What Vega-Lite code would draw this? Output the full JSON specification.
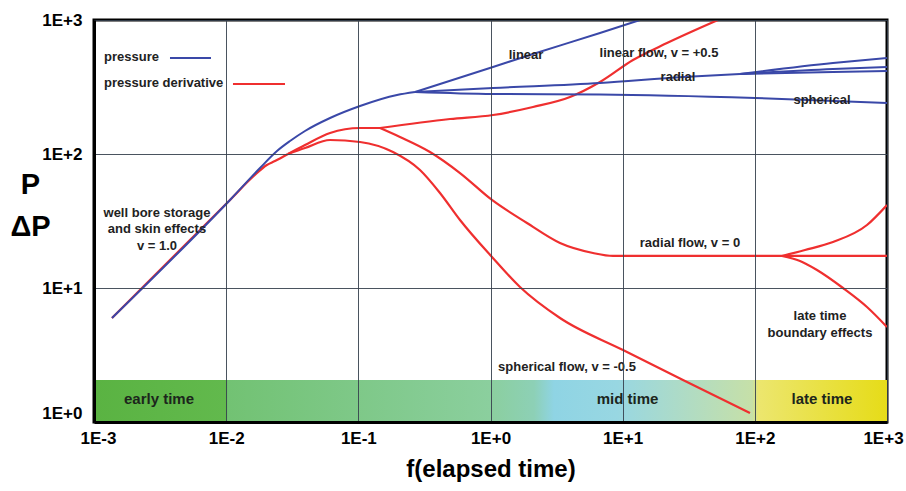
{
  "$schema": "https://vega.github.io/schema/vega-lite/v6.json",
  "width": 793,
  "height": 402,
  "autosize": {"type": "none"},
  "padding": {"left": 94, "top": 20, "right": 19, "bottom": 69},
  "background": "#ffffff",
  "config": {
    "view": {"stroke": "#000000", "strokeWidth": 3},
    "font": "Liberation Sans"
  },
  "datasets": {
    "band": [{"x": 0.001, "x2": 1000, "y": 1, "y2": 2.058}],
    "curves": [
      {"series": "d_main", "kind": "derivative", "x": 0.001368, "y": 5.97},
      {"series": "d_main", "kind": "derivative", "x": 0.01069, "y": 45.4},
      {"series": "d_main", "kind": "derivative", "x": 0.01616, "y": 68.5},
      {"series": "d_main", "kind": "derivative", "x": 0.0203, "y": 82.8},
      {"series": "d_main", "kind": "derivative", "x": 0.02341, "y": 88.7},
      {"series": "d_main", "kind": "derivative", "x": 0.02936, "y": 100},
      {"series": "d_A", "kind": "derivative", "x": 0.02936, "y": 100},
      {"series": "d_A", "kind": "derivative", "x": 0.03948, "y": 116.7},
      {"series": "d_A", "kind": "derivative", "x": 0.0611, "y": 143.5},
      {"series": "d_A", "kind": "derivative", "x": 0.103, "y": 156.3},
      {"series": "d_A", "kind": "derivative", "x": 0.1459, "y": 156.3},
      {"series": "d_linear", "kind": "derivative", "x": 0.1459, "y": 156.3},
      {"series": "d_linear", "kind": "derivative", "x": 0.4937, "y": 182.4},
      {"series": "d_linear", "kind": "derivative", "x": 1.044, "y": 195.4},
      {"series": "d_linear", "kind": "derivative", "x": 2.097, "y": 224.3},
      {"series": "d_linear", "kind": "derivative", "x": 3.995, "y": 266.3},
      {"series": "d_linear", "kind": "derivative", "x": 6.735, "y": 344.6},
      {"series": "d_linear", "kind": "derivative", "x": 11.97, "y": 502.9},
      {"series": "d_linear", "kind": "derivative", "x": 21.64, "y": 673},
      {"series": "d_linear", "kind": "derivative", "x": 52.6, "y": 1000},
      {"series": "d_radial", "kind": "derivative", "x": 0.1459, "y": 156.3},
      {"series": "d_radial", "kind": "derivative", "x": 0.2066, "y": 134},
      {"series": "d_radial", "kind": "derivative", "x": 0.3484, "y": 103.5},
      {"series": "d_radial", "kind": "derivative", "x": 0.5879, "y": 72.1},
      {"series": "d_radial", "kind": "derivative", "x": 1.026, "y": 45.4},
      {"series": "d_radial", "kind": "derivative", "x": 1.888, "y": 30.55},
      {"series": "d_radial", "kind": "derivative", "x": 3.356, "y": 21.67},
      {"series": "d_radial", "kind": "derivative", "x": 5.963, "y": 18.25},
      {"series": "d_radial", "kind": "derivative", "x": 8.45, "y": 17.34},
      {"series": "d_radial", "kind": "derivative", "x": 160.5, "y": 17.34},
      {"series": "d_radial", "kind": "derivative", "x": 1000, "y": 17.34},
      {"series": "d_up", "kind": "derivative", "x": 160.5, "y": 17.34},
      {"series": "d_up", "kind": "derivative", "x": 239.6, "y": 19.2},
      {"series": "d_up", "kind": "derivative", "x": 390.2, "y": 22.04},
      {"series": "d_up", "kind": "derivative", "x": 705.6, "y": 29.52},
      {"series": "d_up", "kind": "derivative", "x": 1000, "y": 41.6},
      {"series": "d_down", "kind": "derivative", "x": 160.5, "y": 17.34},
      {"series": "d_down", "kind": "derivative", "x": 219.6, "y": 15.9},
      {"series": "d_down", "kind": "derivative", "x": 295.3, "y": 13.62},
      {"series": "d_down", "kind": "derivative", "x": 464.5, "y": 10},
      {"series": "d_down", "kind": "derivative", "x": 705.6, "y": 7.216},
      {"series": "d_down", "kind": "derivative", "x": 1000, "y": 5.117},
      {"series": "d_spherical", "kind": "derivative", "x": 0.02936, "y": 100},
      {"series": "d_spherical", "kind": "derivative", "x": 0.03948, "y": 110.9},
      {"series": "d_spherical", "kind": "derivative", "x": 0.0611, "y": 127.2},
      {"series": "d_spherical", "kind": "derivative", "x": 0.103, "y": 122.9},
      {"series": "d_spherical", "kind": "derivative", "x": 0.1829, "y": 103.5},
      {"series": "d_spherical", "kind": "derivative", "x": 0.2928, "y": 75.96},
      {"series": "d_spherical", "kind": "derivative", "x": 0.4148, "y": 51.17},
      {"series": "d_spherical", "kind": "derivative", "x": 0.5879, "y": 32.17},
      {"series": "d_spherical", "kind": "derivative", "x": 1.026, "y": 17.03},
      {"series": "d_spherical", "kind": "derivative", "x": 1.671, "y": 10.17},
      {"series": "d_spherical", "kind": "derivative", "x": 3.356, "y": 5.972},
      {"series": "d_spherical", "kind": "derivative", "x": 10.06, "y": 3.445},
      {"series": "d_spherical", "kind": "derivative", "x": 28.6, "y": 2.058},
      {"series": "d_spherical", "kind": "derivative", "x": 91.9, "y": 1.167},
      {"series": "p_main", "kind": "pressure", "x": 0.001368, "y": 5.97},
      {"series": "p_main", "kind": "pressure", "x": 0.01069, "y": 45.4},
      {"series": "p_main", "kind": "pressure", "x": 0.01803, "y": 78.6},
      {"series": "p_main", "kind": "pressure", "x": 0.02424, "y": 105.3},
      {"series": "p_main", "kind": "pressure", "x": 0.03041, "y": 125.0},
      {"series": "p_main", "kind": "pressure", "x": 0.03948, "y": 148.5},
      {"series": "p_main", "kind": "pressure", "x": 0.0611, "y": 185.6},
      {"series": "p_main", "kind": "pressure", "x": 0.103, "y": 228.1},
      {"series": "p_main", "kind": "pressure", "x": 0.1961, "y": 275.6},
      {"series": "p_main", "kind": "pressure", "x": 0.2684, "y": 290.2},
      {"series": "p_linear", "kind": "pressure", "x": 0.2684, "y": 290.2},
      {"series": "p_linear", "kind": "pressure", "x": 1.044, "y": 445.9},
      {"series": "p_linear", "kind": "pressure", "x": 2.097, "y": 557.3},
      {"series": "p_linear", "kind": "pressure", "x": 6.735, "y": 800},
      {"series": "p_linear", "kind": "pressure", "x": 13.52, "y": 1000},
      {"series": "p_radial", "kind": "pressure", "x": 0.2684, "y": 290.2},
      {"series": "p_radial", "kind": "pressure", "x": 1.044, "y": 310.8},
      {"series": "p_radial", "kind": "pressure", "x": 6.735, "y": 338.8},
      {"series": "p_radial", "kind": "pressure", "x": 28.6, "y": 375.5},
      {"series": "p_radial", "kind": "pressure", "x": 77.2, "y": 395.3},
      {"series": "p_r_up", "kind": "pressure", "x": 77.2, "y": 395.3},
      {"series": "p_r_up", "kind": "pressure", "x": 390.2, "y": 477.6},
      {"series": "p_r_up", "kind": "pressure", "x": 1000, "y": 520.4},
      {"series": "p_r_mid", "kind": "pressure", "x": 77.2, "y": 395.3},
      {"series": "p_r_mid", "kind": "pressure", "x": 390.2, "y": 430.7},
      {"series": "p_r_mid", "kind": "pressure", "x": 1000, "y": 445.9},
      {"series": "p_r_low", "kind": "pressure", "x": 77.2, "y": 395.3},
      {"series": "p_r_low", "kind": "pressure", "x": 390.2, "y": 409},
      {"series": "p_r_low", "kind": "pressure", "x": 1000, "y": 416},
      {"series": "p_spherical", "kind": "pressure", "x": 0.2684, "y": 290.2},
      {"series": "p_spherical", "kind": "pressure", "x": 1.044, "y": 280.4},
      {"series": "p_spherical", "kind": "pressure", "x": 6.735, "y": 278},
      {"series": "p_spherical", "kind": "pressure", "x": 100.3, "y": 261.8},
      {"series": "p_spherical", "kind": "pressure", "x": 1000, "y": 240.3}
    ],
    "notes": [
      {"x": 0.002996, "y": 36.29, "text": "well bore storage\nand skin effects\nv = 1.0"},
      {"x": 1.856, "y": 548, "text": "linear"},
      {"x": 18.83, "y": 567, "text": "linear flow, v = +0.5"},
      {"x": 26.2, "y": 375.5, "text": "radial"},
      {"x": 322.2, "y": 252.9, "text": "spherical"},
      {"x": 32.3, "y": 21.67, "text": "radial flow, v = 0"},
      {"x": 311.2, "y": 6.18, "text": "late time\nboundary effects"},
      {"x": 3.79, "y": 2.573, "text": "spherical flow, v = -0.5"}
    ],
    "bandlabels": [
      {"x": 0.003104, "y": 1.485, "text": "early time"},
      {"x": 10.88, "y": 1.485, "text": "mid time"},
      {"x": 322.2, "y": 1.485, "text": "late time"}
    ],
    "legendtext": [
      {"x": 0.001191, "y": 529.6, "text": "pressure"},
      {"x": 0.001191, "y": 338.8, "text": "pressure derivative"}
    ],
    "legendlines": [
      {"kind": "pressure", "x": 0.003758, "x2": 0.007677, "y": 520.4},
      {"kind": "derivative", "x": 0.01126, "x2": 0.02787, "y": 333}
    ]
  },
  "encoding": {
    "x": {
      "field": "x", "type": "quantitative",
      "scale": {"type": "log", "domain": [0.001, 1000], "nice": false},
      "axis": {
        "values": [0.001, 0.01, 0.1, 1, 10, 100, 1000],
        "labelExpr": "'1E' + (datum.value >= 1 ? '+' : '') + round(log(datum.value)/LN10)",
        "labelOffset": {"condition": [{"test": "datum.value == 1000", "value": -4}, {"test": "datum.value == 0.001", "value": 4}], "value": 0},
        "title": "f(elapsed time)",
        "titleFontSize": 24, "titleFontWeight": "bold", "titleColor": "#000000", "titlePadding": 11,
        "labelFontSize": 17, "labelFontWeight": "bold", "labelColor": "#000000", "labelPadding": 8,
        "ticks": false, "tickSize": 0,
        "domainColor": "#000000", "domainWidth": 3,
        "grid": true, "gridColor": "#36404e", "gridWidth": 1, "gridOpacity": 0.9,
        "zindex": 1, "labelFlush": false
      }
    },
    "y": {
      "field": "y", "type": "quantitative",
      "scale": {"type": "log", "domain": [1, 1000], "nice": false},
      "axis": {
        "values": [1, 10, 100, 1000],
        "labelExpr": "'1E+' + round(log(datum.value)/LN10)",
        "labelBaseline": {"condition": {"test": "datum.value == 1", "value": "bottom"}, "value": "middle"},
        "title": ["P", "ΔP"],
        "titleAngle": 0, "titleFontSize": 29, "titleFontWeight": "bold", "titleColor": "#000000",
        "titleAlign": "center", "titleBaseline": "middle", "titleLineHeight": 42,
        "titleX": -64, "titleY": 164,
        "labelFontSize": 17, "labelFontWeight": "bold", "labelColor": "#000000", "labelPadding": 12,
        "ticks": false, "tickSize": 0,
        "domainColor": "#000000", "domainWidth": 3,
        "grid": true, "gridColor": "#36404e", "gridWidth": 1, "gridOpacity": 0.9,
        "zindex": 1, "labelFlush": false
      }
    }
  },
  "layer": [
    {
      "data": {"name": "band"},
      "mark": {
        "type": "rect",
        "fill": {
          "gradient": "linear", "x1": 0, "x2": 1, "y1": 0, "y2": 0,
          "stops": [
            {"offset": 0, "color": "#5ab342"},
            {"offset": 0.166, "color": "#62b94d"},
            {"offset": 0.169, "color": "#72c273"},
            {"offset": 0.5, "color": "#8bcf9e"},
            {"offset": 0.555, "color": "#8dd0b6"},
            {"offset": 0.58, "color": "#8fd4e4"},
            {"offset": 0.66, "color": "#98d7e2"},
            {"offset": 0.83, "color": "#c6e0a8"},
            {"offset": 0.838, "color": "#ece66e"},
            {"offset": 1, "color": "#e6dc18"}
          ]
        }
      },
      "encoding": {"x2": {"field": "x2"}, "y2": {"field": "y2"}}
    },
    {
      "data": {"name": "bandlabels"},
      "mark": {"type": "text", "fontSize": 15, "fontWeight": "bold", "color": "#1c261c", "align": "center", "baseline": "middle"},
      "encoding": {"text": {"field": "text"}}
    },
    {
      "data": {"name": "curves"},
      "transform": [{"filter": "datum.kind == 'derivative'"}],
      "mark": {"type": "line", "interpolate": "monotone", "strokeWidth": 2.2, "clip": true},
      "encoding": {
        "detail": {"field": "series"},
        "color": {"field": "kind", "type": "nominal", "scale": {"domain": ["pressure", "derivative"], "range": ["#3a48a8", "#ef2f2f"]}, "legend": null}
      }
    },
    {
      "data": {"name": "curves"},
      "transform": [{"filter": "datum.kind == 'pressure'"}],
      "mark": {"type": "line", "interpolate": "monotone", "strokeWidth": 2, "clip": true},
      "encoding": {
        "detail": {"field": "series"},
        "color": {"field": "kind", "type": "nominal", "scale": {"domain": ["pressure", "derivative"], "range": ["#3a48a8", "#ef2f2f"]}, "legend": null}
      }
    },
    {
      "data": {"name": "notes"},
      "mark": {"type": "text", "fontSize": 13, "fontWeight": "bold", "color": "#222222", "align": "center", "baseline": "middle", "lineBreak": "\n", "lineHeight": 16.5},
      "encoding": {"text": {"field": "text"}}
    },
    {
      "data": {"name": "legendtext"},
      "mark": {"type": "text", "fontSize": 13, "fontWeight": "bold", "color": "#222222", "align": "left", "baseline": "middle"},
      "encoding": {"text": {"field": "text"}}
    },
    {
      "data": {"name": "legendlines"},
      "mark": {"type": "rule", "strokeWidth": 2},
      "encoding": {
        "x2": {"field": "x2"},
        "color": {"field": "kind", "type": "nominal", "scale": {"domain": ["pressure", "derivative"], "range": ["#3a48a8", "#ef2f2f"]}, "legend": null}
      }
    }
  ]
}
